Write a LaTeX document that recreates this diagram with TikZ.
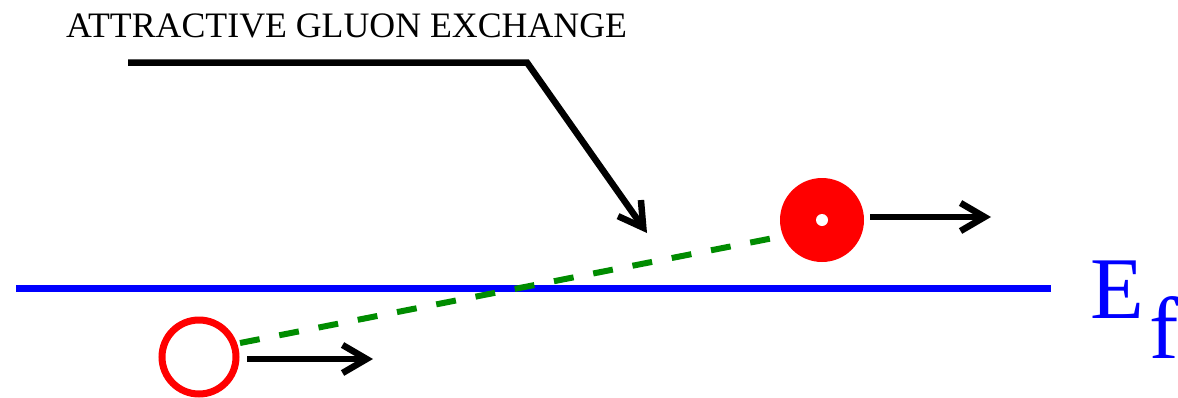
\documentclass[tikz,border=0pt]{standalone}
\usepackage{fontspec}
\setmainfont{Liberation Serif}
\usetikzlibrary{arrows.meta}
\definecolor{gluongreen}{RGB}{0,140,0}
\begin{document}
\begin{tikzpicture}[x=1pt,y=-1pt,
  thickline/.style={line width=6.5pt},
  arr/.style={thickline,-{Straight Barb[length=24pt,width=28pt,line width=6.5pt]}},
  lbl/.style={inner sep=0pt,anchor=base west}]
\useasboundingbox (0,0) rectangle (1178,397);
% label
\node[lbl,font=\fontsize{35.8}{40}\selectfont] (title) at (66,37) {ATTRACTIVE GLUON EXCHANGE};
% pointer
\coordinate (p0) at (128,62.5);
\coordinate (p1) at (527,62.5);
\coordinate (p2) at (647,233);
\draw[arr,line join=miter] (p0) -- (p1) -- (p2);
% Fermi level
\coordinate (f0) at (16,288.5);
\coordinate (f1) at (1051,288.5);
\draw[thickline,blue] (f0) -- (f1);
\node[lbl,blue,font=\fontsize{88}{90}\selectfont] (ef) at (1090,318) {E\kern6pt\raisebox{-40pt}{f}};
% particles
\node[circle,fill=red,minimum size=84pt,inner sep=0pt] (q2) at (822,220) {};
\node[circle,fill=white,minimum size=12pt,inner sep=0pt] (dot) at (q2) {};
\node[circle,draw=red,line width=7pt,minimum size=74pt,inner sep=0pt] (q1) at (199,357) {};
% gluon
\coordinate (g1) at (240,343);
\coordinate (g2) at (776,237.5);
\draw[line width=6pt,gluongreen,dash pattern=on 20pt off 20pt] (g1) -- (g2);
% motion arrows
\coordinate (a1) at (991,217);
\coordinate (a2) at (373,359);
\draw[arr] (q2.east |- a1) ++(6,0) -- (a1);
\draw[arr] (247,359) -- (a2);
\end{tikzpicture}
\end{document}
